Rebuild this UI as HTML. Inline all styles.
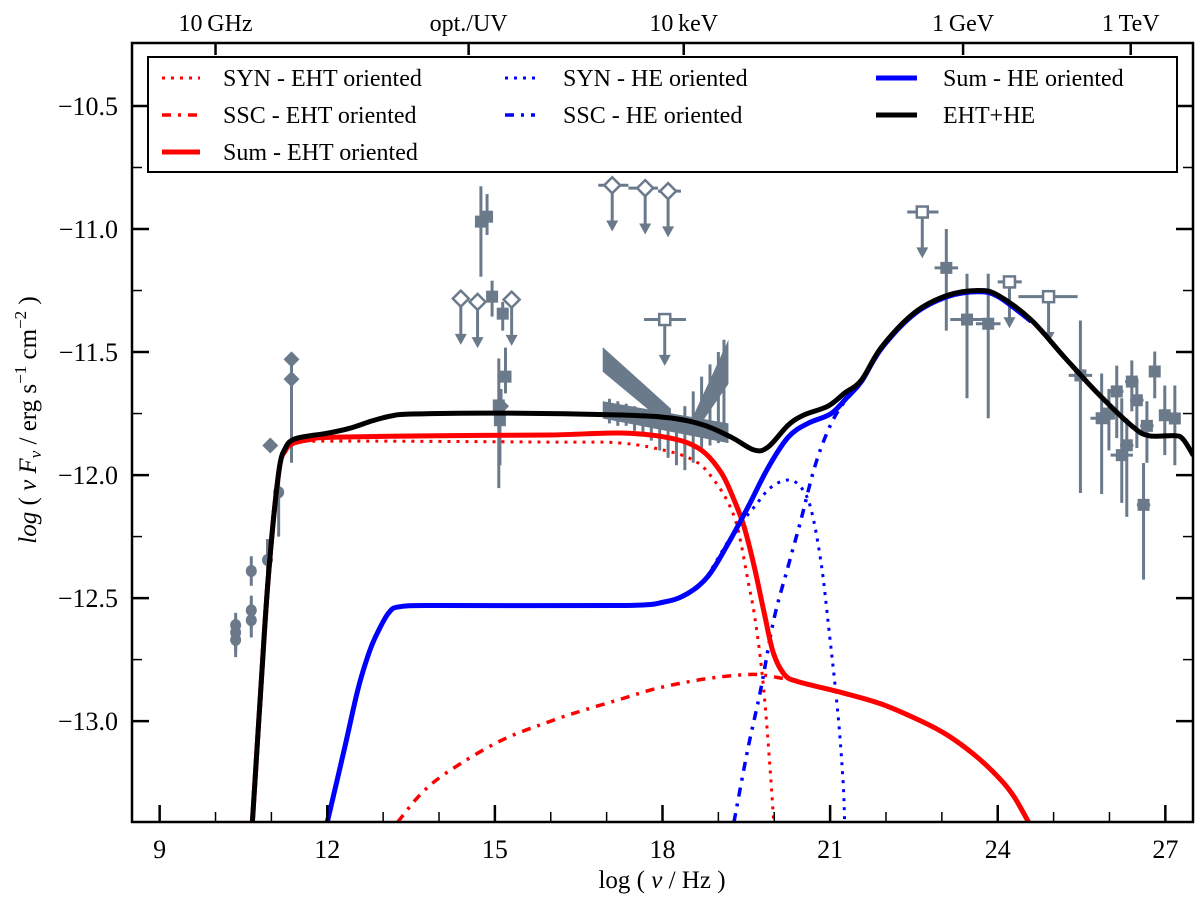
<!DOCTYPE html>
<html><head><meta charset="utf-8"><style>
html,body{margin:0;padding:0;background:#fff}
svg{display:block;font-family:"Liberation Serif",serif}
</style></head><body>
<svg id="chart" width="1200" height="900" viewBox="0 0 1200 900" xmlns="http://www.w3.org/2000/svg">
<defs><clipPath id="pc"><rect x="132" y="43" width="1061" height="779"/></clipPath></defs>
<g id="marks" clip-path="url(#pc)"></g>
<g id="axes"></g>
</svg>
<script>
// axis ranges
const xMin=8.505, xMax=27.495, yMin=-13.41, yMax=-10.244;
// curves
const blackX=[10.66,10.81,10.95,11.13,11.25,11.40,11.7,12.0,12.4,12.8,13.14,13.5,15.0,17.26,18.15,18.74,19.23,19.64,19.89,20.25,20.53,20.96,21.26,21.56,21.92,22.51,23.10,23.65,24.01,24.60,25.19,25.80,26.40,26.70,27.17,27.32,27.5];
const blackY=[-13.41,-12.87,-12.40,-11.99,-11.89,-11.855,-11.84,-11.83,-11.81,-11.78,-11.76,-11.752,-11.748,-11.756,-11.768,-11.797,-11.846,-11.898,-11.886,-11.797,-11.756,-11.72,-11.667,-11.614,-11.48,-11.34,-11.27,-11.25,-11.27,-11.37,-11.52,-11.67,-11.80,-11.84,-11.84,-11.855,-11.92];
const redX=[10.66,10.81,10.95,11.13,11.25,11.40,11.7,12.06,14.0,16.0,17.26,18.15,18.69,19.05,19.28,19.46,19.64,19.82,19.98,20.18,20.43,21.14,21.91,22.63,23.12,23.65,24.06,24.3,24.55];
const redY=[-13.41,-12.87,-12.40,-11.99,-11.90,-11.87,-11.855,-11.846,-11.84,-11.837,-11.829,-11.85,-11.898,-11.99,-12.10,-12.21,-12.37,-12.56,-12.72,-12.81,-12.84,-12.88,-12.93,-13.0,-13.06,-13.15,-13.24,-13.31,-13.41];
const redSynX=[10.66,10.81,10.95,11.13,11.25,11.40,12.0,16.0,17.26,18.15,18.63,18.92,19.17,19.35,19.53,19.64,19.76,19.85,19.94,19.99];
const redSynY=[-13.41,-12.87,-12.40,-11.99,-11.90,-11.87,-11.862,-11.866,-11.87,-11.906,-11.95,-12.02,-12.11,-12.22,-12.43,-12.56,-12.76,-12.97,-13.24,-13.41];
const redSscX=[13.26,13.7,14.2,15.1,16.0,16.6,17.26,17.85,18.46,19.05,19.64,20.12,20.43,21.14,21.91,22.63,23.12,23.65,24.06,24.3,24.55];
const redSscY=[-13.41,-13.29,-13.2,-13.08,-13.0,-12.955,-12.91,-12.87,-12.84,-12.82,-12.81,-12.825,-12.84,-12.88,-12.93,-13.0,-13.06,-13.15,-13.24,-13.31,-13.41];
const blueX=[12.0,12.3,12.55,12.75,12.9,13.1,13.3,14.0,17.26,18.03,18.46,18.82,19.17,19.53,19.89,20.25,20.60,21.02,21.32,21.56,21.92,22.51,23.10,23.65,24.01,24.60];
const blueY=[-13.41,-13.12,-12.87,-12.72,-12.64,-12.56,-12.535,-12.53,-12.53,-12.516,-12.48,-12.41,-12.28,-12.13,-11.97,-11.846,-11.79,-11.75,-11.68,-11.62,-11.485,-11.345,-11.275,-11.255,-11.275,-11.375];
const blueSynX=[12.0,12.3,12.55,12.75,12.9,13.1,13.3,14.0,17.26,18.03,18.46,18.74,19.23,19.64,19.94,20.25,20.48,20.66,20.84,20.98,21.14,21.23,21.26];
const blueSynY=[-13.41,-13.12,-12.87,-12.72,-12.64,-12.56,-12.535,-12.53,-12.53,-12.516,-12.48,-12.43,-12.25,-12.13,-12.05,-12.02,-12.05,-12.14,-12.36,-12.63,-12.97,-13.24,-13.41];
const blueSscX=[19.28,19.53,19.76,19.99,20.25,20.48,20.72,20.96,21.20,21.56,21.92,22.51,23.10,23.65,24.01,24.60];
const blueSscY=[-13.41,-13.11,-12.87,-12.59,-12.37,-12.18,-11.97,-11.82,-11.72,-11.62,-11.485,-11.345,-11.275,-11.255,-11.275,-11.375];
// data: radio circles
const circX=[10.36,10.36,10.36,10.64,10.64,10.64,10.93,11.13];
const circY=[-12.61,-12.64,-12.67,-12.39,-12.55,-12.59,-12.345,-12.07];
const circLo=[-12.70,-12.72,-12.74,-12.45,-12.62,-12.66,-12.40,-12.25];
const circHi=[-12.56,-12.58,-12.60,-12.33,-12.49,-12.52,-12.26,-11.96];
// filled diamonds
const diaX=[10.98,11.36,11.36,15.11];
const diaY=[-11.88,-11.53,-11.61,-11.72];
const diaLo=[-11.88,-11.53,-11.95,-11.80];
const diaHi=[-11.88,-11.53,-11.53,-11.65];
// filled squares (optical + gamma)
const sqX=[14.75,14.86,14.95,15.14,15.19,15.07,15.09,23.08,23.45,23.83,25.48,25.86,25.99,26.13,26.22,26.31,26.40,26.49,26.61,26.67,26.81,26.99,27.17];
const sqY=[-10.97,-10.95,-11.275,-11.344,-11.60,-11.717,-11.777,-11.158,-11.368,-11.385,-11.595,-11.769,-11.75,-11.66,-11.919,-11.879,-11.62,-11.696,-12.121,-11.80,-11.579,-11.757,-11.77];
const sqLo=[-11.194,-11.024,-11.356,-11.413,-11.668,-12.053,-11.96,-11.413,-11.688,-11.769,-12.073,-12.077,-11.90,-11.85,-12.113,-12.17,-11.741,-11.89,-12.425,-11.95,-11.688,-11.919,-11.96];
const sqHi=[-10.826,-10.858,-11.21,-11.296,-11.482,-11.526,-11.70,-11.0,-11.182,-11.182,-11.372,-11.587,-11.65,-11.555,-11.688,-11.77,-11.534,-11.607,-11.951,-11.70,-11.498,-11.636,-11.636];
const sqXerr=[0,0.08,0,0,0,0,0,0.21,0.3,0.22,0.21,0.2,0.12,0.12,0.2,0.12,0.12,0.12,0.12,0.12,0.1,0.1,0.1];
// open diamond upper limits
const udX=[14.39,14.69,15.30,17.10,17.69,18.10];
const udY=[-11.283,-11.296,-11.287,-10.822,-10.834,-10.846];
const udXlo=[14.39,14.69,15.30,16.85,17.39,17.92];
const udXhi=[14.39,14.69,15.30,17.39,17.92,18.33];
// open square upper limits
const usX=[18.04,22.65,24.21,24.91];
const usY=[-11.368,-10.931,-11.215,-11.275];
const usXlo=[17.67,22.38,24.0,24.37];
const usXhi=[18.42,22.94,24.43,25.43];
const ulLen=0.18;
// X-ray bowties
const bowX0=[16.93,16.93,18.57];
const bowX1=[18.15,19.18,19.18];
const bowUp0=[-11.48,-11.70,-11.75];
const bowUp1=[-11.73,-11.79,-11.45];
const bowLo0=[-11.58,-11.77,-11.83];
const bowLo1=[-11.81,-11.87,-11.63];
const xrtX=[17.05,17.2,17.35,17.5,17.65,17.8,17.95,18.1,18.25,18.4,18.55,18.7,18.85,19.0,19.1];
const xrtLo=[-11.79,-11.80,-11.80,-11.82,-11.83,-11.86,-11.90,-11.93,-11.96,-11.98,-11.95,-11.90,-11.88,-11.87,-11.86];
const xrtHi=[-11.69,-11.70,-11.71,-11.72,-11.73,-11.74,-11.75,-11.76,-11.77,-11.72,-11.66,-11.60,-11.55,-11.50,-11.45];
// ticks
const xTicks=[9,12,15,18,21,24,27];
const yTicks=[-10.5,-11.0,-11.5,-12.0,-12.5,-13.0];
const topTickX=[10,14.53,18.38,23.38,26.38];
const topTickLabels=["10\u2009GHz","opt./UV","10\u2009keV","1\u2009GeV","1\u2009TeV"];

const L=132,R=1193,T=43,B=822;
const X=v=>L+(v-xMin)/(xMax-xMin)*(R-L);
const Y=v=>B-(v-yMin)/(yMax-yMin)*(B-T);
const NS="http://www.w3.org/2000/svg";
const marks=document.getElementById('marks');
const axes=document.getElementById('axes');
const GREY="#6b7a8b";
function mk(tag,attrs,parent){const e=document.createElementNS(NS,tag);for(const k in attrs)e.setAttribute(k,attrs[k]);parent.appendChild(e);return e;}
function pathD(xs,ys){
  const P=xs.map((x,i)=>[X(x),Y(ys[i])]);
  let d='M'+P[0][0].toFixed(1)+' '+P[0][1].toFixed(1);
  for(let i=0;i<P.length-1;i++){
    const p0=P[i-1]||P[i],p1=P[i],p2=P[i+1],p3=P[i+2]||P[i+1];
    const c1=[p1[0]+(p2[0]-p0[0])/6,p1[1]+(p2[1]-p0[1])/6];
    const c2=[p2[0]-(p3[0]-p1[0])/6,p2[1]-(p3[1]-p1[1])/6];
    d+=` C${c1[0].toFixed(1)} ${c1[1].toFixed(1)} ${c2[0].toFixed(1)} ${c2[1].toFixed(1)} ${p2[0].toFixed(1)} ${p2[1].toFixed(1)}`;
  }
  return d;
}

for(let i=0;i<bowX0.length;i++){
  const p=mk('polygon',{points:`${X(bowX0[i])},${Y(bowUp0[i])} ${X(bowX1[i])},${Y(bowUp1[i])} ${X(bowX1[i])},${Y(bowLo1[i])} ${X(bowX0[i])},${Y(bowLo0[i])}`,fill:GREY},marks);
  
  
}
for(let i=0;i<xrtX.length;i++){
  const l=mk('line',{x1:X(xrtX[i]),x2:X(xrtX[i]),y1:Y(xrtLo[i]),y2:Y(xrtHi[i]),stroke:GREY,'stroke-width':3},marks);
  
  
}
function errV(x,lo,hi){mk('line',{x1:X(x),x2:X(x),y1:Y(lo),y2:Y(hi),stroke:GREY,'stroke-width':3},marks);}
function errH(y,lo,hi){mk('line',{x1:X(lo),x2:X(hi),y1:Y(y),y2:Y(y),stroke:GREY,'stroke-width':3},marks);}
function arrow(x,y){const px=X(x),y0=Y(y),y1=Y(y-ulLen);mk('line',{x1:px,x2:px,y1:y0,y2:y1-6,stroke:GREY,'stroke-width':3},marks);mk('polygon',{points:`${px-6},${y1-9} ${px+6},${y1-9} ${px},${y1+2}`,fill:GREY},marks);}
for(let i=0;i<circX.length;i++){
  errV(circX[i],circLo[i],circHi[i]);
  const c=mk('ellipse',{cx:X(circX[i]),cy:Y(circY[i]),rx:5.5,ry:6,fill:GREY},marks);
  
  
}
for(let i=0;i<diaX.length;i++){
  errV(diaX[i],diaLo[i],diaHi[i]);
  const px=X(diaX[i]),py=Y(diaY[i]);
  const d=mk('polygon',{points:`${px},${py-8} ${px+8},${py} ${px},${py+8} ${px-8},${py}`,fill:GREY},marks);
  
  
}
for(let i=0;i<sqX.length;i++){
  errV(sqX[i],sqLo[i],sqHi[i]);
  if(sqXerr[i]>0)errH(sqY[i],sqX[i]-sqXerr[i],sqX[i]+sqXerr[i]);
  const s=mk('rect',{x:X(sqX[i])-6,y:Y(sqY[i])-6,width:12,height:12,fill:GREY},marks);
  
  
}
for(let i=0;i<udX.length;i++){
  if(udXhi[i]>udXlo[i])errH(udY[i],udXlo[i],udXhi[i]);
  arrow(udX[i],udY[i]);
  const px=X(udX[i]),py=Y(udY[i]);
  const d=mk('polygon',{points:`${px},${py-8} ${px+8},${py} ${px},${py+8} ${px-8},${py}`,fill:'#fff',stroke:GREY,'stroke-width':2.5},marks);
  
  
}
for(let i=0;i<usX.length;i++){
  errH(usY[i],usXlo[i],usXhi[i]);
  arrow(usX[i],usY[i]);
  const s=mk('rect',{x:X(usX[i])-5.5,y:Y(usY[i])-5.5,width:11,height:11,fill:'#fff',stroke:GREY,'stroke-width':2.5},marks);
  
  
}
function curve(xs,ys,color,w,dash,name){
  const p=mk('path',{d:pathD(xs,ys),fill:'none',stroke:color,'stroke-width':w,'stroke-linejoin':'round'},marks);
  if(dash)p.setAttribute('stroke-dasharray',dash);
  
  
}
curve(redSynX,redSynY,'#ff0000',3,'3,6','syn-eht-curve');
curve(redSscX,redSscY,'#ff0000',3.5,'9,7,3,7','ssc-eht-curve');
curve(blueSynX,blueSynY,'#0000ff',3,'3,6','syn-he-curve');
curve(blueSscX,blueSscY,'#0000ff',3.5,'9,7,3,7','ssc-he-curve');
curve(redX,redY,'#ff0000',5,null,'sum-eht-curve');
curve(blueX,blueY,'#0000ff',5,null,'sum-he-curve');
curve(blackX,blackY,'#000000',5,null,'eht-he-curve');

const fr=mk('rect',{x:L,y:T,width:R-L,height:B-T,fill:'none',stroke:'#000','stroke-width':2.5},axes);


for(let v=9;v<=27;v++){
  const major=xTicks.includes(v);
  mk('line',{x1:X(v),x2:X(v),y1:B,y2:B-(major?17:10),stroke:'#000','stroke-width':major?2.5:1.5},axes);
}
for(const v of xTicks){
  const t=mk('text',{x:X(v),y:B+36,'font-size':26,'text-anchor':'middle'},axes);
  t.textContent=String(v);
  
  
}
for(let k=0;k<=10;k++){
  const v=-10.5-k*0.25;if(v<yMin)break;
  const major=k%2===0;
  mk('line',{x1:L,x2:L+(major?17:10),y1:Y(v),y2:Y(v),stroke:'#000','stroke-width':major?2.5:1.5},axes);
  mk('line',{x1:R,x2:R-(major?17:10),y1:Y(v),y2:Y(v),stroke:'#000','stroke-width':major?2.5:1.5},axes);
}
for(const v of yTicks){
  const t=mk('text',{x:L-14,y:Y(v)+9,'font-size':26,'text-anchor':'end'},axes);
  t.textContent='\u2212'+Math.abs(v).toFixed(1);
  
  
}
for(let i=0;i<topTickX.length;i++){
  mk('line',{x1:X(topTickX[i]),x2:X(topTickX[i]),y1:T,y2:T+12,stroke:'#000','stroke-width':2.5},axes);
  const t=mk('text',{x:X(topTickX[i]),y:31,'font-size':24,'text-anchor':'middle'},axes);
  t.textContent=topTickLabels[i];
  
  
}
</script>
<svg width="1200" height="900" style="position:absolute;left:0;top:0" xmlns="http://www.w3.org/2000/svg">
<g font-family="Liberation Serif, serif" font-size="25">
<text x="662" y="888" text-anchor="middle">log ( <tspan font-style="italic">ν</tspan> / Hz )</text>
<text transform="translate(36,420) rotate(-90)" text-anchor="middle"><tspan font-style="italic">log</tspan> ( <tspan font-style="italic">ν F</tspan><tspan font-style="italic" font-size="17" dy="5">ν</tspan><tspan dy="-5"> / erg s</tspan><tspan font-size="17" dy="-10">−1</tspan><tspan dy="10"> cm</tspan><tspan font-size="17" dy="-10">−2</tspan><tspan dy="10"> )</tspan></text>
</g>
<g>
<rect x="148" y="57" width="1029" height="115" fill="#fff" stroke="#000" stroke-width="2"/>
<g font-family="Liberation Serif, serif" font-size="24">
<line x1="162" x2="200" y1="78" y2="78" stroke="#f00" stroke-width="3" stroke-dasharray="3,6"/>
<text x="223" y="86">SYN - EHT oriented</text>
<line x1="162" x2="200" y1="115" y2="115" stroke="#f00" stroke-width="3.5" stroke-dasharray="9,7,3,7"/>
<text x="223" y="123">SSC - EHT oriented</text>
<line x1="162" x2="200" y1="152" y2="152" stroke="#f00" stroke-width="5"/>
<text x="223" y="160">Sum - EHT oriented</text>
<line x1="505" x2="535" y1="78" y2="78" stroke="#00f" stroke-width="3" stroke-dasharray="3,6"/>
<text x="563" y="86">SYN - HE oriented</text>
<line x1="505" x2="535" y1="115" y2="115" stroke="#00f" stroke-width="3.5" stroke-dasharray="9,7,3,7"/>
<text x="563" y="123">SSC - HE oriented</text>
<line x1="876" x2="917" y1="78" y2="78" stroke="#00f" stroke-width="5"/>
<text x="943" y="86">Sum - HE oriented</text>
<line x1="876" x2="917" y1="115" y2="115" stroke="#000" stroke-width="5"/>
<text x="943" y="123">EHT+HE</text>
</g>
</g>
</svg>
</body></html>
